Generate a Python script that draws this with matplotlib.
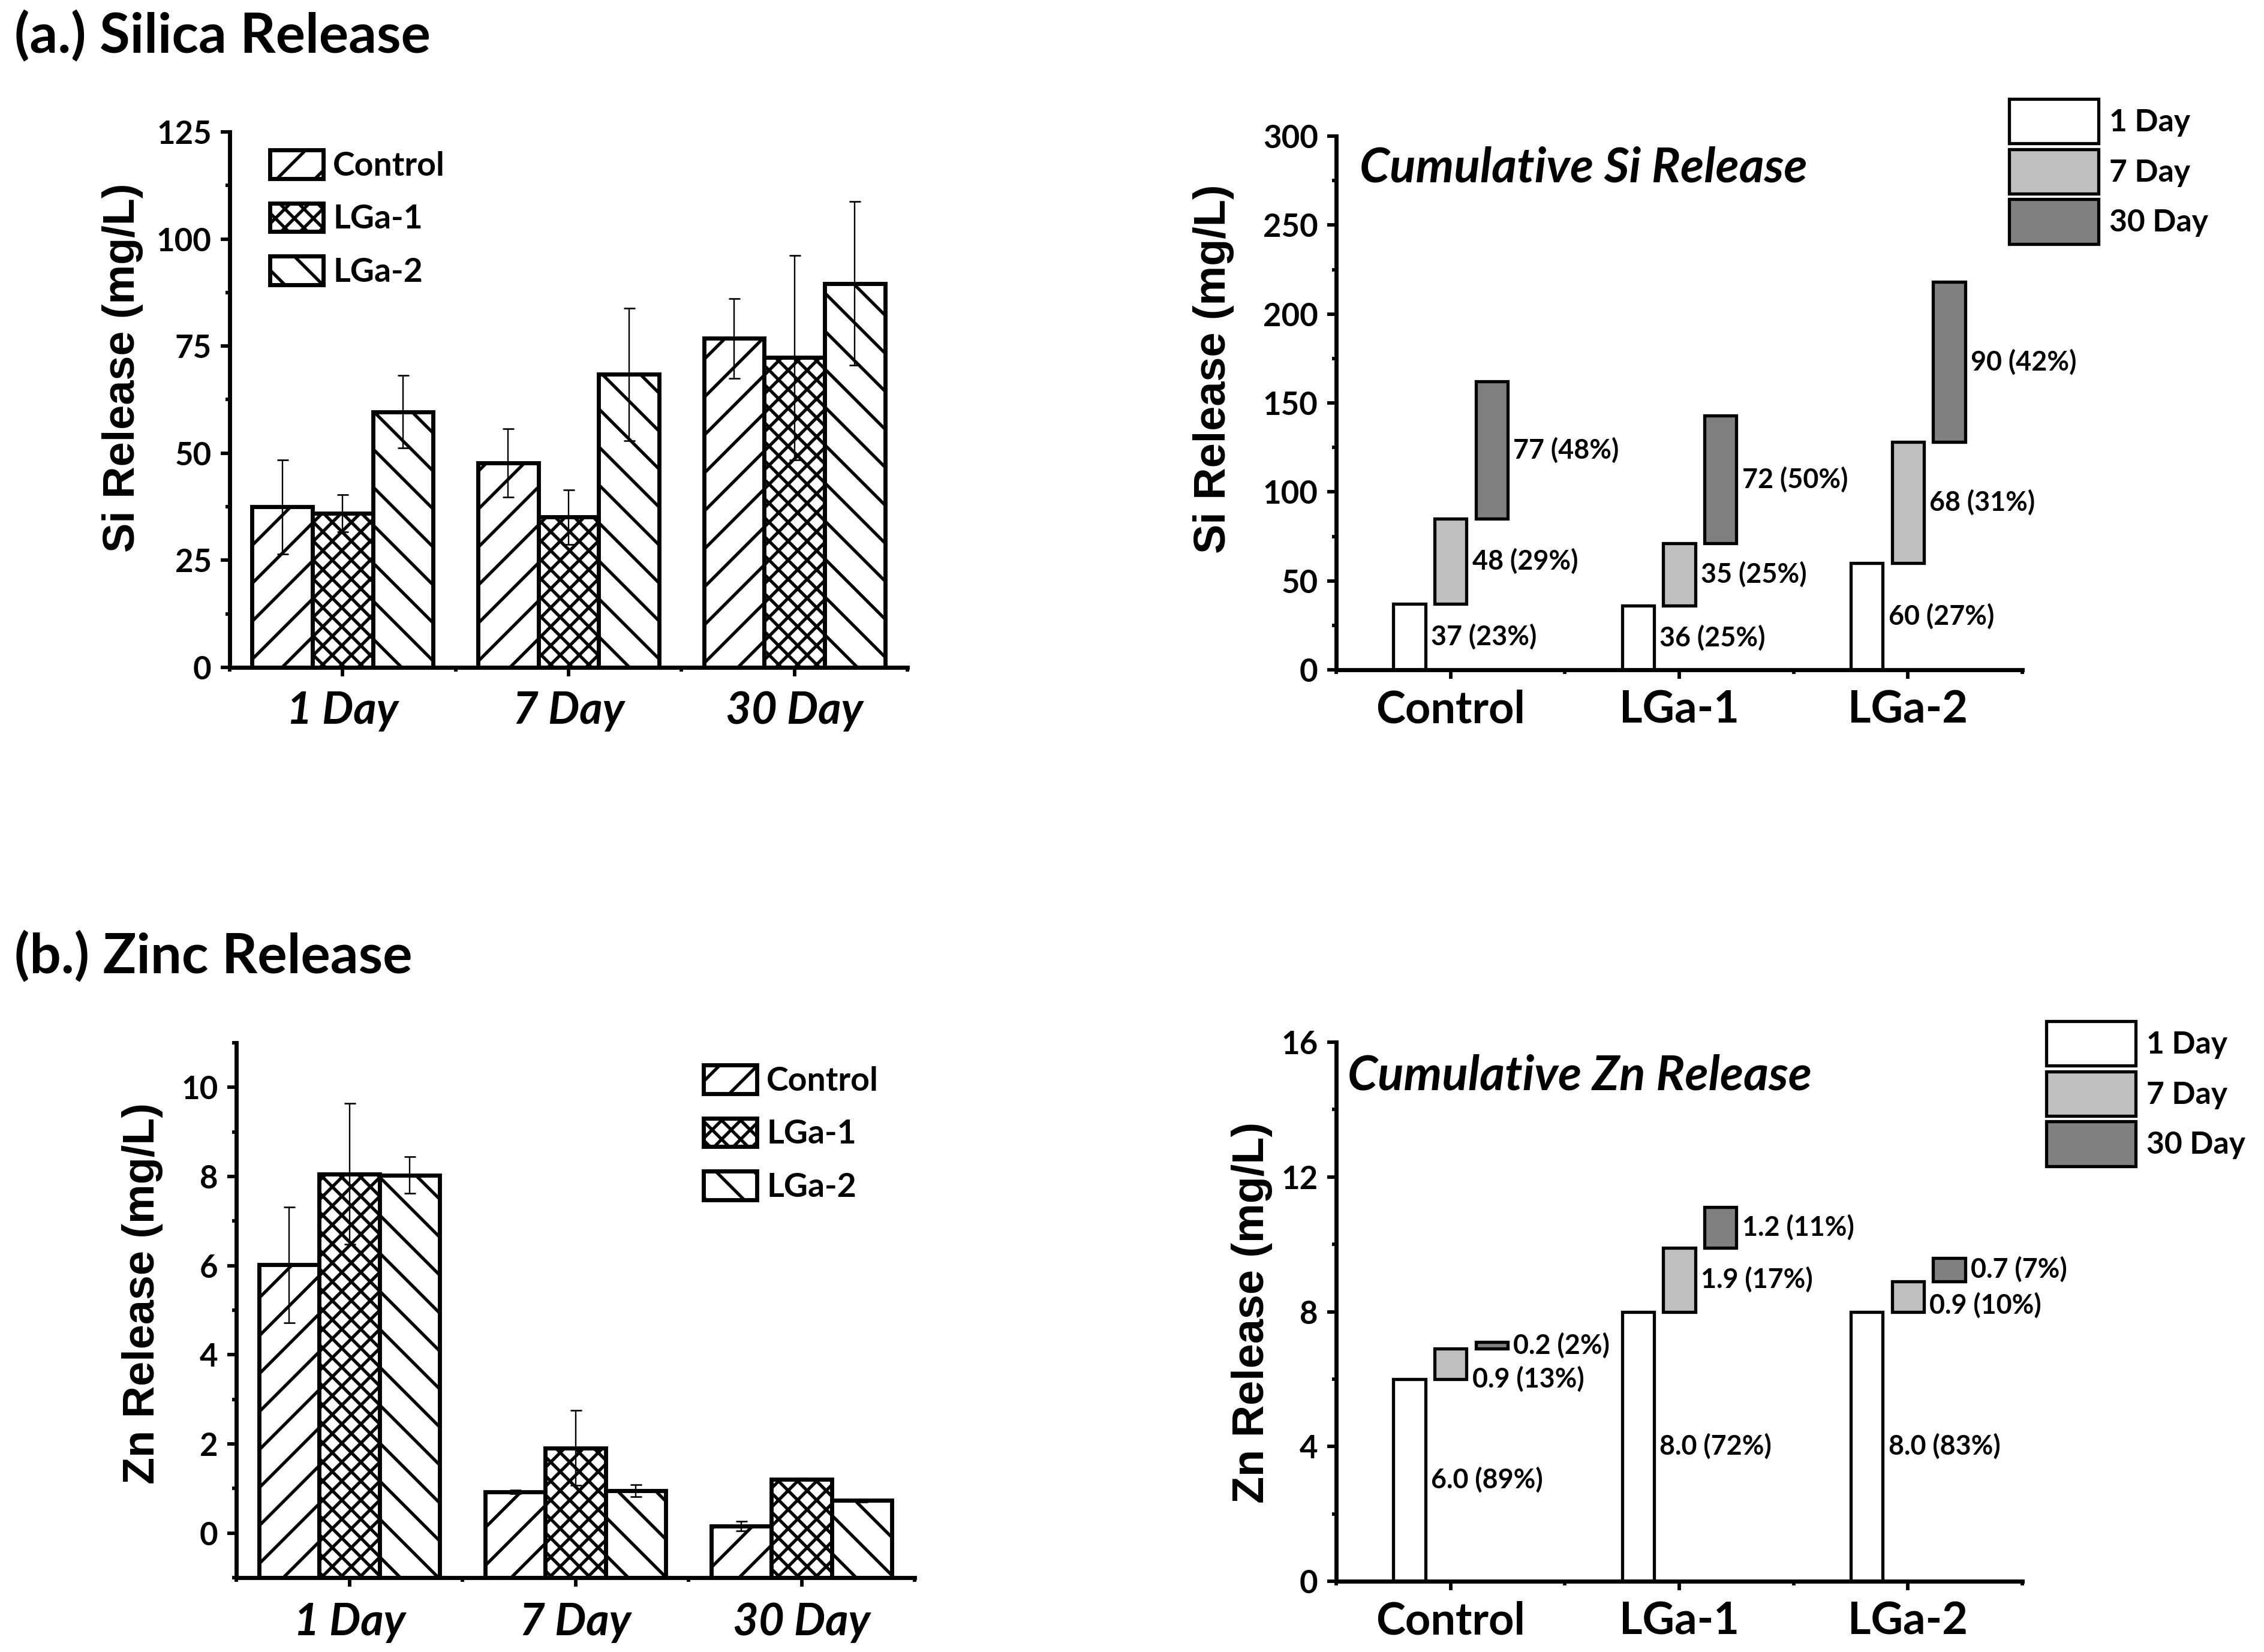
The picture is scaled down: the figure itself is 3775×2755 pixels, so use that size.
import matplotlib
matplotlib.use("Agg")
import matplotlib.pyplot as plt
from matplotlib.ticker import FixedLocator
import numpy as np

# ---------------- data ----------------
DAYS = ["1 Day", "7 Day", "30 Day"]
MATERIALS = ["Control", "LGa-1", "LGa-2"]

# Si release per time point (mg/L)
SI_CONTROL = [37.5, 47.7, 76.8]
SI_LGA1 = [36.0, 35.1, 72.3]
SI_LGA2 = [59.7, 68.4, 89.6]
SI_CONTROL_ERR = [11.0, 8.0, 9.3]
SI_LGA1_ERR = [4.3, 6.4, 23.9]
SI_LGA2_ERR = [8.5, 15.5, 19.1]

# Zn release per time point (mg/L)
ZN_CONTROL = [6.02, 0.93, 0.16]
ZN_LGA1 = [8.06, 1.91, 1.21]
ZN_LGA2 = [8.03, 0.95, 0.73]
ZN_CONTROL_ERR = [1.30, 0.04, 0.11]
ZN_LGA1_ERR = [1.58, 0.84, 0.02]
ZN_LGA2_ERR = [0.41, 0.14, 0.03]

# cumulative increments (as labelled) and percentages, per material: [1 Day, 7 Day, 30 Day]
SI_CUM_CONTROL = [37, 48, 77]
SI_CUM_LGA1 = [36, 35, 72]
SI_CUM_LGA2 = [60, 68, 90]
SI_PCT_CONTROL = [23, 29, 48]
SI_PCT_LGA1 = [25, 25, 50]
SI_PCT_LGA2 = [27, 31, 42]

ZN_CUM_CONTROL = [6.0, 0.9, 0.2]
ZN_CUM_LGA1 = [8.0, 1.9, 1.2]
ZN_CUM_LGA2 = [8.0, 0.9, 0.7]
ZN_PCT_CONTROL = [89, 13, 2]
ZN_PCT_LGA1 = [72, 17, 11]
ZN_PCT_LGA2 = [83, 10, 7]

# ---------------- style ----------------
W_PX, H_PX, DPI = 3775, 2755, 190
HATCHES = ["/", "xx", "\\"]
DAY_COLORS = ["#ffffff", "#c0c0c0", "#808080"]
SI_LABEL_FRAC = [[0.5, 0.5, 0.5], [0.5, 0.5, 0.5], [0.5, 0.5, 0.5]]
ZN_LABEL_FRAC = [[0.5, 0.0, 0.5], [0.5, 0.5, 0.5], [0.5, 0.2, 0.5]]

plt.rcParams.update({
    "font.family": ["Lato", "DejaVu Sans"],
    "font.weight": "bold",
    "hatch.linewidth": 2.0,
    "hatch.color": "black",
    "axes.linewidth": 2.6,
})

fig = plt.figure(figsize=(W_PX / DPI, H_PX / DPI), dpi=DPI)


def fx(px):
    return px / W_PX


def fy(py):
    return 1 - py / H_PX


def add_axes(x0, y0, x1, y1):
    return fig.add_axes([fx(x0), fy(y1), (x1 - x0) / W_PX, (y1 - y0) / H_PX])


def style_axes(ax, ylim, ymajor, yminor, xlabels, xfont, xstyle, xpad):
    for s in ("top", "right"):
        ax.spines[s].set_visible(False)
    ax.set_xlim(-0.5, 2.5)
    ax.set_ylim(*ylim)
    ax.xaxis.set_major_locator(FixedLocator([0, 1, 2]))
    ax.xaxis.set_minor_locator(FixedLocator([-0.5, 0.5, 1.5, 2.5]))
    ax.yaxis.set_major_locator(FixedLocator(ymajor))
    ax.yaxis.set_minor_locator(FixedLocator(yminor))
    ax.tick_params(axis="both", which="major", direction="out", length=5.5, width=2.2,
                   labelsize=20, pad=6)
    ax.tick_params(axis="both", which="minor", direction="out", length=2.8, width=2.2)
    ax.tick_params(axis="x", which="major", pad=xpad)
    ax.set_xticklabels(xlabels, fontsize=xfont, style=xstyle, fontweight="bold")


def set_ylabel(ax, text, xpx, ypx):
    ax.set_ylabel(text, fontsize=28, fontweight="bold", family=["Liberation Sans", "DejaVu Sans"],
                  va="center", ha="center")
    ax.yaxis.set_label_coords(fx(xpx), fy(ypx), transform=fig.transFigure)


def grouped_bars(ax, series, errors, base, legend_anchor):
    x = np.arange(len(DAYS))
    w = 0.267
    for i, (vals, errs) in enumerate(zip(series, errors)):
        vals = np.asarray(vals, dtype=float)
        pos = x + (i - 1) * w
        ax.bar(pos, vals - base, w, bottom=base, facecolor="white", edgecolor="black",
               linewidth=2.6, hatch=HATCHES[i], label=MATERIALS[i], zorder=2)
        ax.errorbar(pos, vals, yerr=errs, fmt="none", ecolor="black", elinewidth=0.9,
                    capsize=3.6, capthick=1.0, zorder=3)
    ax.legend(loc="upper left", bbox_to_anchor=(fx(legend_anchor[0]), fy(legend_anchor[1])),
              bbox_transform=fig.transFigure, frameon=False, fontsize=21, borderpad=0,
              borderaxespad=0, handlelength=1.6, handleheight=0.95, labelspacing=0.66,
              handletextpad=0.3)


def floating_bars(ax, increments, pcts, fracs, fmt, legend_anchor):
    x = np.arange(len(MATERIALS))
    w = 0.14
    offs = [-0.18, 0.0, 0.18]
    inc = np.asarray(increments, dtype=float)  # rows = material, cols = day
    bottoms = np.hstack([np.zeros((inc.shape[0], 1)), np.cumsum(inc, axis=1)[:, :-1]])
    for k, day in enumerate(DAYS):
        ax.bar(x + offs[k], inc[:, k], w, bottom=bottoms[:, k], facecolor=DAY_COLORS[k],
               edgecolor="black", linewidth=2.0, label=day, zorder=2)
        for m in range(len(MATERIALS)):
            ax.annotate(f"{fmt.format(increments[m][k])} ({pcts[m][k]}%)",
                        xy=(x[m] + offs[k] + w / 2, bottoms[m, k] + fracs[m][k] * inc[m, k]),
                        xytext=(3.5, 0), textcoords="offset points", ha="left", va="center",
                        fontsize=17, fontweight="bold", zorder=4)
    ax.legend(loc="upper left", bbox_to_anchor=(fx(legend_anchor[0]), fy(legend_anchor[1])),
              bbox_transform=fig.transFigure, frameon=False, fontsize=19.5, borderpad=0,
              borderaxespad=0, handlelength=2.9, handleheight=1.85, labelspacing=0.18,
              handletextpad=0.35)


# ---------------- (a) Silica ----------------
ax1 = add_axes(383, 220, 1513, 1113)
grouped_bars(ax1, [SI_CONTROL, SI_LGA1, SI_LGA2], [SI_CONTROL_ERR, SI_LGA1_ERR, SI_LGA2_ERR],
             0.0, (450, 250))
style_axes(ax1, (0, 125), [0, 25, 50, 75, 100, 125], [12.5, 37.5, 62.5, 87.5, 112.5],
           DAYS, 28, "italic", 9)
set_ylabel(ax1, "Si Release (mg/L)", 205, 613)

ax2 = add_axes(2228, 227, 3372, 1117)
floating_bars(ax2, [SI_CUM_CONTROL, SI_CUM_LGA1, SI_CUM_LGA2],
              [SI_PCT_CONTROL, SI_PCT_LGA1, SI_PCT_LGA2], SI_LABEL_FRAC, "{:d}", (3350, 165))
style_axes(ax2, (0, 300), [0, 50, 100, 150, 200, 250, 300], [25, 75, 125, 175, 225, 275],
           MATERIALS, 28, "normal", 7)
set_ylabel(ax2, "Si Release (mg/L)", 2023, 615)
fig.text(fx(2267), fy(280), "Cumulative Si Release", fontsize=30.5, style="italic",
         fontweight="bold", ha="left", va="center")

# ---------------- (b) Zinc ----------------
ax3 = add_axes(394, 1739, 1525, 2631)
grouped_bars(ax3, [ZN_CONTROL, ZN_LGA1, ZN_LGA2], [ZN_CONTROL_ERR, ZN_LGA1_ERR, ZN_LGA2_ERR],
             -1.0, (1173, 1776))
style_axes(ax3, (-1, 11), [0, 2, 4, 6, 8, 10], [-1, 1, 3, 5, 7, 9, 11],
           DAYS, 28, "italic", 9.5)
set_ylabel(ax3, "Zn Release (mg/L)", 237, 2157)

ax4 = add_axes(2228, 1738, 3372, 2637)
floating_bars(ax4, [ZN_CUM_CONTROL, ZN_CUM_LGA1, ZN_CUM_LGA2],
              [ZN_PCT_CONTROL, ZN_PCT_LGA1, ZN_PCT_LGA2], ZN_LABEL_FRAC, "{:.1f}", (3412, 1703))
style_axes(ax4, (0, 16), [0, 4, 8, 12, 16], [2, 6, 10, 14],
           MATERIALS, 28, "normal", 7)
set_ylabel(ax4, "Zn Release (mg/L)", 2087, 2189)
fig.text(fx(2247), fy(1794), "Cumulative Zn Release", fontsize=30.5, style="italic",
         fontweight="bold", ha="left", va="center")

# ---------------- panel titles ----------------
fig.text(fx(24), fy(60), "(a.) Silica Release", fontsize=35, fontweight="bold",
         ha="left", va="center")
fig.text(fx(24), fy(1595), "(b.) Zinc Release", fontsize=35, fontweight="bold",
         ha="left", va="center")

fig.savefig("out.png", dpi=DPI, facecolor="white")
